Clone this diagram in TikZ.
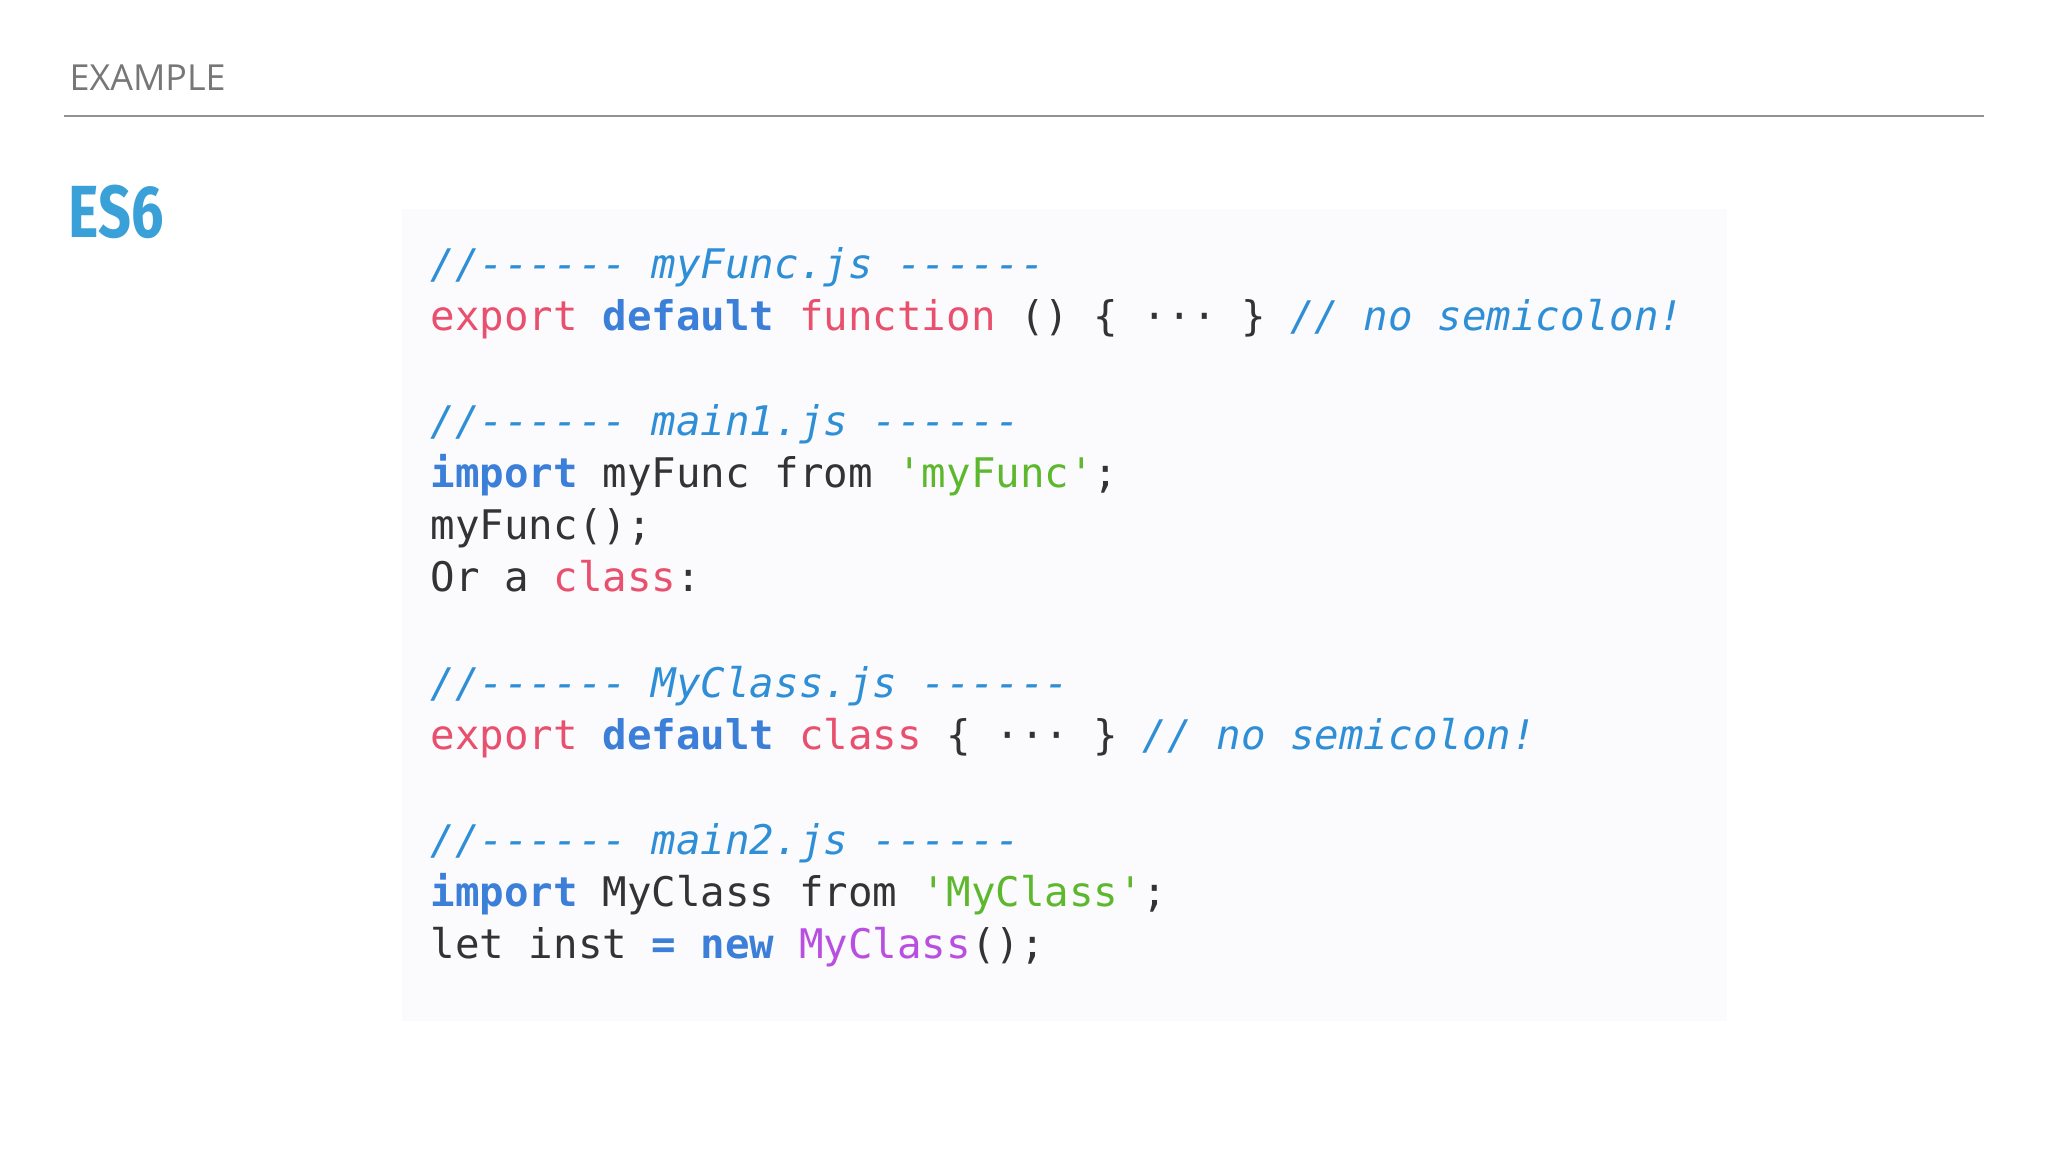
\documentclass[tikz,border=0pt]{standalone}
\usepackage{fontspec}
\setmainfont{Open Sans}
\setmonofont{DejaVu Sans Mono}
\newfontfamily\esfont{Fira Sans}
\definecolor{cBlack}{HTML}{333333}
\definecolor{cRed}{HTML}{E8506E}
\definecolor{cKw}{HTML}{3B7FD9}
\definecolor{cCm}{HTML}{2E8FD6}
\definecolor{cStr}{HTML}{5DB82E}
\definecolor{cPur}{HTML}{B94FE0}
\definecolor{cGray}{HTML}{777777}
\definecolor{cEs}{HTML}{3AA0D8}
\definecolor{cBox}{HTML}{FBFAFD}
\newcommand{\myKw}[1]{\textcolor{cKw}{\bfseries #1}}
\newcommand{\myRd}[1]{\textcolor{cRed}{#1}}
\newcommand{\myCm}[1]{\textcolor{cCm}{\itshape #1}}
\newcommand{\myStr}[1]{\textcolor{cStr}{#1}}
\newcommand{\myPu}[1]{\textcolor{cPur}{#1}}
\begin{document}
\begin{tikzpicture}[x=0.01cm,y=-0.01cm,
  code/.style={anchor=base west,inner sep=0pt,text=cBlack,font=\fontsize{11.6pt}{13pt}\ttfamily}]
\useasboundingbox (0,0) rectangle (2048,1152);
\fill[white] (0,0) rectangle (2048,1152);
\node[anchor=base west,inner sep=0pt,text=cGray,font=\fontsize{10.2pt}{12pt}\selectfont] (title) at (69,91) {EXAMPLE};
\draw[cGray!80,line width=0.5pt] (64,116) -- (1984,116);
\node[anchor=base west,inner sep=0pt,text=cEs,font=\fontsize{21pt}{24pt}\esfont\bfseries,xscale=0.78] (es) at (68,238) {ES6};
\fill[cBox] (402,209) rectangle (1727,1021);
\node[code] (l1) at (430,279) {\myCm{//------ myFunc.js ------}};
\node[code] (l2) at (430,331) {\myRd{export} \myKw{default} \myRd{function} () \{ ··· \} \myCm{// no semicolon!}};
\node[code] (l3) at (430,436) {\myCm{//------ main1.js ------}};
\node[code] (l4) at (430,488) {\myKw{import} myFunc from \myStr{'myFunc'};};
\node[code] (l5) at (430,540) {myFunc();};
\node[code] (l6) at (430,592) {Or a \myRd{class}:};
\node[code] (l7) at (430,697) {\myCm{//------ MyClass.js ------}};
\node[code] (l8) at (430,749) {\myRd{export} \myKw{default} \myRd{class} \{ ··· \} \myCm{// no semicolon!}};
\node[code] (l9) at (430,854) {\myCm{//------ main2.js ------}};
\node[code] (l10) at (430,906) {\myKw{import} MyClass from \myStr{'MyClass'};};
\node[code] (l11) at (430,958) {let inst \myKw{=} \myKw{new} \myPu{MyClass}();};
\end{tikzpicture}
\end{document}
